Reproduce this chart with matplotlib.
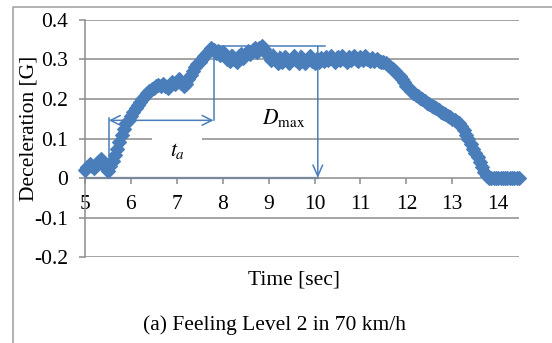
import numpy as np
import matplotlib
matplotlib.use("Agg")
import matplotlib.pyplot as plt
from matplotlib.lines import Line2D

plt.rcParams["font.family"] = ["Liberation Serif", "DejaVu Serif"]
plt.rcParams["mathtext.fontset"] = "stix"

# Sampling grid of the recorded trace (sec)
time_s = np.round(np.arange(5.00, 14.451, 0.05), 2)

# Measured deceleration [G], one value per sample
decel = [
    # 5.00 - 5.45
    0.020, 0.028, 0.036, 0.030, 0.026, 0.034, 0.044, 0.048, 0.038, 0.026,
    # 5.50 - 5.95
    0.018, 0.030, 0.042, 0.058, 0.074, 0.090, 0.108, 0.124, 0.138, 0.148,
    # 6.00 - 6.45
    0.156, 0.166, 0.176, 0.184, 0.192, 0.200, 0.208, 0.215, 0.220, 0.226,
    # 6.50 - 6.95
    0.228, 0.232, 0.236, 0.232, 0.238, 0.234, 0.228, 0.236, 0.242, 0.238,
    # 7.00 - 7.45
    0.244, 0.250, 0.240, 0.232, 0.238, 0.250, 0.262, 0.272, 0.280, 0.288,
    # 7.50 - 7.95
    0.294, 0.302, 0.310, 0.316, 0.322, 0.328, 0.324, 0.316, 0.322, 0.312,
    # 8.00 - 8.45
    0.320, 0.310, 0.302, 0.296, 0.310, 0.302, 0.294, 0.308, 0.314, 0.304,
    # 8.50 - 8.95
    0.314, 0.322, 0.314, 0.324, 0.328, 0.318, 0.330, 0.334, 0.326, 0.316,
    # 9.00 - 9.45
    0.308, 0.298, 0.310, 0.298, 0.290, 0.304, 0.294, 0.306, 0.298, 0.290,
    # 9.50 - 9.95
    0.302, 0.310, 0.298, 0.292, 0.306, 0.296, 0.290, 0.300, 0.308, 0.296,
    # 10.00 - 10.45
    0.290, 0.302, 0.294, 0.304, 0.296, 0.306, 0.298, 0.308, 0.300, 0.294,
    # 10.50 - 10.95
    0.306, 0.298, 0.308, 0.300, 0.294, 0.306, 0.298, 0.308, 0.300, 0.296,
    # 11.00 - 11.45
    0.306, 0.298, 0.308, 0.300, 0.296, 0.304, 0.296, 0.302, 0.296, 0.294,
    # 11.50 - 11.95
    0.294, 0.290, 0.286, 0.280, 0.276, 0.270, 0.264, 0.257, 0.250, 0.242,
    # 12.00 - 12.45
    0.234, 0.227, 0.221, 0.215, 0.211, 0.207, 0.203, 0.199, 0.195, 0.191,
    # 12.50 - 12.95
    0.187, 0.183, 0.180, 0.176, 0.172, 0.168, 0.165, 0.161, 0.158, 0.154,
    # 13.00 - 13.45
    0.150, 0.146, 0.142, 0.138, 0.132, 0.122, 0.110, 0.098, 0.086, 0.074,
    # 13.50 - 13.95
    0.064, 0.052, 0.040, 0.028, 0.014, 0.004, 0.000, 0.000, 0.000, 0.000,
    # 14.00 - 14.45
    0.000, 0.000, 0.000, 0.000, 0.000, 0.000, 0.000, 0.000, 0.000, 0.000,
]

x_ticks = [5, 6, 7, 8, 9, 10, 11, 12, 13, 14]
y_ticks = [-0.2, -0.1, 0, 0.1, 0.2, 0.3, 0.4]
y_tick_labels = ["-0.2", "-0.1", "0", "0.1", "0.2", "0.3", "0.4"]

# Reference markers for the rise time t_a and peak deceleration D_max
t_start = 5.52
t_end_rise = 7.80
t_dmax = 10.07
d_max = 0.334
ta_level = 0.146

BLUE = "#4a7ebb"
GRAY = "#8c8c8c"

fig = plt.figure(figsize=(5.52, 3.43), dpi=100)
ax = fig.add_axes([0.154, 0.2507, 0.786, 0.691])

ax.set_xlim(5, 14.45)
ax.set_ylim(-0.2, 0.4)

for s in ("top", "right"):
    ax.spines[s].set_visible(False)
ax.spines["bottom"].set_position(("data", 0))
for s in ("left", "bottom"):
    ax.spines[s].set_color(GRAY)
    ax.spines[s].set_linewidth(1.1)

ax.set_yticks(y_ticks)
ax.set_yticklabels(y_tick_labels)
ax.set_xticks(x_ticks)
ax.set_xticklabels([str(v) for v in x_ticks])
ax.tick_params(axis="both", colors=GRAY, labelcolor="black", labelsize=15.5,
               length=4, width=1.1, direction="out")
ax.tick_params(axis="y", pad=8)
ax.tick_params(axis="x", pad=8)

for yv in y_ticks:
    if yv != 0:
        ax.axhline(yv, color=GRAY, lw=1.1, zorder=1)

# white patch behind the t_a label
ax.fill_between([6.46, 7.54], 0.06, 0.125, color="white", zorder=1.5, lw=0)

ax.plot(time_s, decel, linestyle="-", lw=5, marker="D", ms=7.6, mew=0.8,
        color=BLUE, zorder=3, clip_on=False, solid_joinstyle="miter")

# annotation lines
lw_a = 1.1
ax.plot([t_start, t_start], [0.025, 0.152], color=BLUE, lw=lw_a, zorder=4)
ax.plot([t_end_rise, t_end_rise], [ta_level, d_max], color=BLUE, lw=lw_a, zorder=4)
ax.annotate("", xy=(t_start, ta_level), xytext=(t_end_rise, ta_level),
            arrowprops=dict(arrowstyle="<->,head_length=0.7,head_width=0.35",
                            color=BLUE, lw=lw_a, shrinkA=0, shrinkB=0),
            zorder=4)
ax.plot([t_end_rise, 10.22], [d_max, d_max], color=BLUE, lw=lw_a, zorder=4)
ax.annotate("", xy=(t_dmax, 0), xytext=(t_dmax, d_max),
            arrowprops=dict(arrowstyle="->,head_length=0.8,head_width=0.35",
                            color=BLUE, lw=lw_a, shrinkA=0, shrinkB=0),
            zorder=4)
ax.plot([5, t_dmax], [0, 0], color=BLUE, lw=1.6, zorder=2.5)

ax.text(7.02, 0.068, r"$t_a$", fontsize=15.5, ha="center", va="center", zorder=5)
ax.text(9.33, 0.152, r"$D_{\mathrm{max}}$", fontsize=15.5, ha="center",
        va="center", zorder=5)

fig.text(0.533, 0.184, "Time [sec]", fontsize=15.5, ha="center", va="center")
fig.text(0.053, 0.627, "Deceleration [G]", fontsize=15.5, ha="center",
         va="center", rotation=90)
fig.text(0.497, 0.052, "(a) Feeling Level 2 in 70 km/h", fontsize=15.5,
         ha="center", va="center")

# outer frame
fig.add_artist(Line2D([13 / 552, 13 / 552, 1.0], [0.0, 1 - 7 / 343, 1 - 7 / 343],
                      transform=fig.transFigure, color="#a6a6a6", lw=1.2))

fig.savefig("out.png", dpi=100)
